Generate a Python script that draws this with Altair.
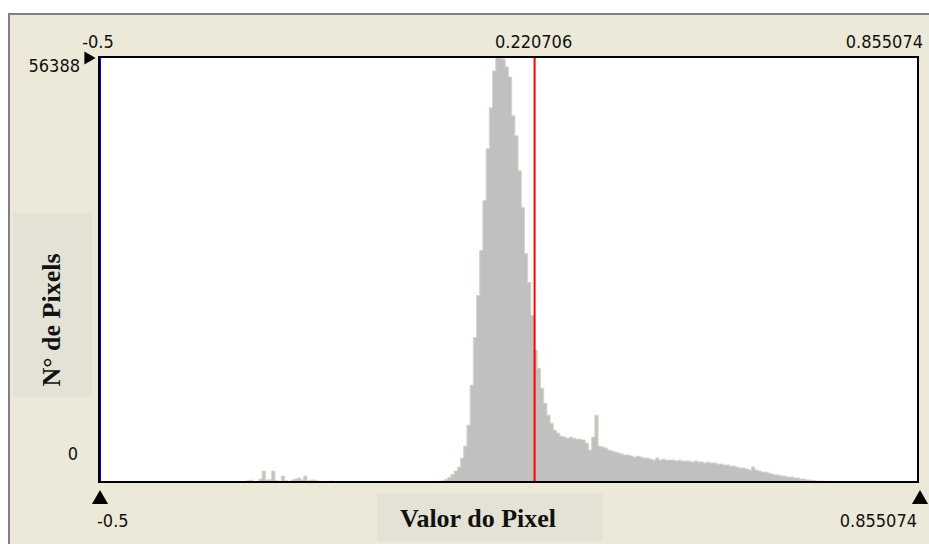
import altair as alt
import pandas as pd

# ---- data ----
X_MIN = -0.5
X_MAX = 0.855074
X_MARK = 0.220706
Y_MAX = 56388
N_BINS = 256

# low isolated bins (bin index 43..72)
low_start = 43
counts_low = [40, 0, 0, 150, 250, 0, 0, 400, 1460, 260, 300, 1460, 200, 0, 790,
              200, 0, 260, 400, 530, 300, 790, 200, 260, 260, 130, 0, 0, 0, 130]

# main body (bin index 106..230)
main_start = 106
counts_main = [
    100, 150, 330, 600, 990, 1460, 1990, 3180, 4770, 7540,
    12840, 19190, 24750, 30710, 37330, 44210, 49640, 54540, 56388, 56260,
    56120, 55070, 53740, 48580, 45930, 41300, 36400, 30310, 26470, 22110,
    17470, 15090, 12440, 10460, 8870, 7810, 6880, 6490, 6090, 5960,
    5820, 5960, 5820, 5690, 5690, 5560, 5160, 4240, 5960, 8870,
    4770, 4630, 4500, 4240, 4100, 3970, 3840, 3710, 3580, 3580,
    3440, 3310, 3440, 3310, 3180, 3180, 3040, 2910, 3180, 2910,
    3040, 2910, 2910, 2910, 2780, 2910, 2780, 2780, 2780, 2650,
    2780, 2650, 2650, 2520, 2650, 2520, 2520, 2380, 2380, 2250,
    2250, 2120, 2120, 1990, 1850, 1850, 1720, 1590, 1990, 1590,
    1460, 1320, 1320, 1190, 1060, 930, 930, 790, 790, 660,
    660, 530, 530, 400, 400, 260, 260, 200, 130, 130,
    100, 80, 60, 40, 30,
]

top_labels = ["-0.5", "0.220706", "0.855074"]
left_labels = ["56388", "0"]
x_title = "Valor do Pixel"
y_title = "N° de Pixels"

# ---- build table (step outline over bins) ----
bw = (X_MAX - X_MIN) / N_BINS
full = {}
for start, arr in ((low_start, counts_low), (main_start, counts_main)):
    for k, c in enumerate(arr):
        full[start + k] = c
first, last = min(full), max(full)
rows = []
for i in range(first, last + 1):
    rows.append({"x": X_MIN + i * bw, "count": full.get(i, 0)})
rows.append({"x": X_MIN + (last + 1) * bw, "count": 0})
df = pd.DataFrame(rows)

W, H = 819, 425
NUM_FONT = "DejaVu Sans Condensed, sans-serif"
NUM_SIZE = 18
SERIF = "Liberation Serif, Times New Roman, serif"
BEIGE = "#ECE9D8"
BOX = "#E3E2D5"

xs = alt.Scale(domain=[X_MIN, X_MAX], nice=False, zero=False)
ys = alt.Scale(domain=[0, Y_MAX], nice=False)

base = alt.Chart(pd.DataFrame({"d": [0]}))

panel = base.mark_rect(fill=BEIGE, stroke="#808080", strokeWidth=2).encode(
    x=alt.value(-90), x2=alt.value(840), y=alt.value(-43), y2=alt.value(500))

xbox = base.mark_rect(fill=BOX).encode(
    x=alt.value(278), x2=alt.value(504), y=alt.value(436), y2=alt.value(484))
ybox = base.mark_rect(fill=BOX).encode(
    x=alt.value(-86), x2=alt.value(-7), y=alt.value(156), y2=alt.value(340))

plotbg = base.mark_rect(fill="white").encode(
    x=alt.value(0), x2=alt.value(W), y=alt.value(0), y2=alt.value(H))

area = alt.Chart(df).mark_area(interpolate="step-after", fill="#C0C0C0", fillOpacity=1).encode(
    x=alt.X("x:Q", scale=xs, axis=None),
    y=alt.Y("count:Q", scale=ys, axis=None, stack=None),
    y2=alt.datum(0),
)
outline = alt.Chart(df).mark_line(interpolate="step-after", color="#DAD6C2", strokeWidth=1).encode(
    x=alt.X("x:Q", scale=xs, axis=None),
    y=alt.Y("count:Q", scale=ys, axis=None),
)

blue = base.mark_rule(color="#0000FF", strokeWidth=2, xOffset=1).encode(
    x=alt.datum(X_MIN, scale=xs))
red = base.mark_rule(color="#FF0000", strokeWidth=2).encode(
    x=alt.datum(X_MARK, scale=xs))

frame = base.mark_rect(fill=None, stroke="black", strokeWidth=2).encode(
    x=alt.value(0), x2=alt.value(W), y=alt.value(0), y2=alt.value(H))

def num(text, xd, y, align, dx=0):
    return base.mark_text(font=NUM_FONT, fontSize=NUM_SIZE, color="#111111", align=align,
                          baseline="alphabetic", dx=dx).encode(
        text=alt.value(text), x=alt.datum(xd, scale=xs), y=alt.value(y))

t1 = num(top_labels[0], X_MIN, -9, "center", dx=-1)
t2 = num(top_labels[1], X_MARK, -9, "center", dx=-1)
t3 = num(top_labels[2], X_MAX, -9, "right", dx=5)
b1 = num(top_labels[0], X_MIN, 470, "left", dx=-2)
b2 = num(top_labels[2], X_MAX, 470, "right", dx=-1)

l1 = base.mark_text(font=NUM_FONT, fontSize=NUM_SIZE, color="#111111", align="right",
                    baseline="alphabetic", dy=15).encode(
    text=alt.value(left_labels[0]), x=alt.value(-19), y=alt.datum(Y_MAX, scale=ys))
l2 = base.mark_text(font=NUM_FONT, fontSize=NUM_SIZE, color="#111111", align="right",
                    baseline="alphabetic", dy=-22).encode(
    text=alt.value(left_labels[1]), x=alt.value(-21), y=alt.datum(0, scale=ys))

xt = base.mark_text(font=SERIF, fontSize=26, fontWeight="bold", color="#111111",
                    align="center", baseline="alphabetic").encode(
    text=alt.value(x_title), x=alt.value(379), y=alt.value(470))
yt = base.mark_text(font=SERIF, fontSize=26, fontWeight="bold", color="#111111",
                    align="center", baseline="alphabetic", angle=270).encode(
    text=alt.value(y_title), x=alt.value(-39), y=alt.value(263))

tri_l = base.mark_point(shape="triangle-up", filled=True, color="black", size=260, opacity=1).encode(
    x=alt.datum(X_MIN, scale=xs), y=alt.value(440), xOffset=alt.value(1))
tri_r = base.mark_point(shape="triangle-up", filled=True, color="black", size=260, opacity=1).encode(
    x=alt.datum(X_MAX, scale=xs), y=alt.value(440), xOffset=alt.value(2))
tri_t = base.mark_point(shape="triangle-right", filled=True, color="black", size=170, opacity=1).encode(
    x=alt.value(-9), y=alt.value(1))

chart = alt.layer(
    panel, xbox, ybox, plotbg, area, outline, blue, red, frame,
    t1, t2, t3, b1, b2, l1, l2, xt, yt, tri_l, tri_r, tri_t,
).properties(
    width=W, height=H,
    autosize=alt.AutoSizeParams(type="none"),
    padding={"left": 99, "top": 57, "right": 11, "bottom": 62},
    background="white",
).configure_view(stroke=None)

chart.save("out.html", embed_options={"renderer": "svg", "actions": False})
